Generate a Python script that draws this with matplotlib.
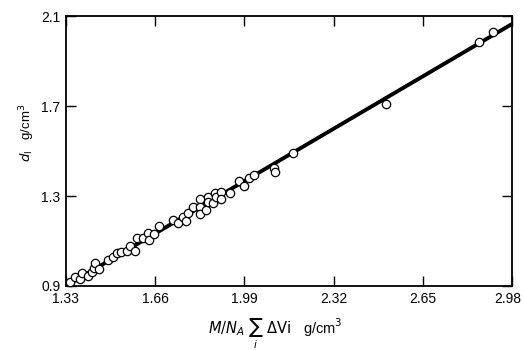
import matplotlib
matplotlib.use("Agg")
import matplotlib.pyplot as plt
import matplotlib.transforms as mtransforms

plt.rcParams['font.family'] = ['Liberation Sans Narrow', 'Liberation Sans', 'DejaVu Sans']
plt.rcParams['mathtext.fontset'] = 'dejavusans'

# data
x_obs = [1.345, 1.363, 1.382, 1.388, 1.413, 1.425, 1.435, 1.437, 1.453, 1.484,
         1.503, 1.518, 1.533, 1.557, 1.567, 1.584, 1.594, 1.616, 1.634, 1.637,
         1.657, 1.675, 1.725, 1.743, 1.762, 1.776, 1.782, 1.801, 1.826, 1.826,
         1.826, 1.850, 1.856, 1.856, 1.875, 1.881, 1.885, 1.903, 1.903, 1.937,
         1.971, 1.989, 2.008, 2.027, 2.101, 2.104, 2.169, 2.513, 2.859, 2.909]
y_obs = [0.919, 0.939, 0.930, 0.956, 0.944, 0.964, 0.981, 1.004, 0.977, 1.016,
         1.030, 1.045, 1.052, 1.057, 1.079, 1.057, 1.112, 1.112, 1.134, 1.104,
         1.130, 1.168, 1.193, 1.179, 1.208, 1.189, 1.223, 1.250, 1.285, 1.250,
         1.219, 1.238, 1.294, 1.275, 1.270, 1.312, 1.297, 1.316, 1.288, 1.315,
         1.367, 1.344, 1.379, 1.393, 1.426, 1.408, 1.490, 1.709, 1.984, 2.028]
x_fit = [1.33, 2.98]
y_fit = [0.90, 2.065]
x_ticks = [1.33, 1.66, 1.99, 2.32, 2.65, 2.98]
x_ticklabels = ['1.33', '1.66', '1.99', '2.32', '2.65', '2.98']
y_ticks = [0.9, 1.3, 1.7, 2.1]
y_ticklabels = ['0.9', '1.3', '1.7', '2.1']

fig = plt.figure(figsize=(5.23, 3.5), dpi=100)
ax = fig.add_axes([0.126, 0.183, 0.853, 0.771])

ax.plot(x_fit, y_fit, color='black', lw=2.8, solid_capstyle='butt', zorder=2)
ax.plot(x_obs, y_obs, linestyle='none', marker='o', ms=6, mfc='white',
        mec='black', mew=0.9, zorder=3, clip_on=False)

ax.set_xlim(1.33, 2.98)
ax.set_ylim(0.9, 2.1)
ax.set_xticks(x_ticks)
ax.set_xticklabels(x_ticklabels)
ax.set_yticks(y_ticks)
ax.set_yticklabels(y_ticklabels)
ax.tick_params(direction='in', length=7, width=1, top=True, right=True,
               labelsize=10, pad=4)
for s in ax.spines.values():
    s.set_linewidth(1.3)

ax.set_xlabel(r'$M/N_A\ \sum_i\ \Delta\mathrm{Vi}$   g/cm$^3$', fontsize=10.5)
ax.xaxis.set_label_coords(0.469, -0.116)
ax.set_ylabel(r'$d_\mathrm{I}$   g/cm$^3$', fontsize=9.5)
ax.yaxis.set_label_coords(-0.065, 0.567)

# nudge the last x tick label left so it stays inside the figure
last = ax.xaxis.get_major_ticks()[-1].label1
last.set_transform(last.get_transform() +
                   mtransforms.ScaledTranslation(-4 / 100, 0, fig.dpi_scale_trans))

fig.savefig('out.png', dpi=100)
